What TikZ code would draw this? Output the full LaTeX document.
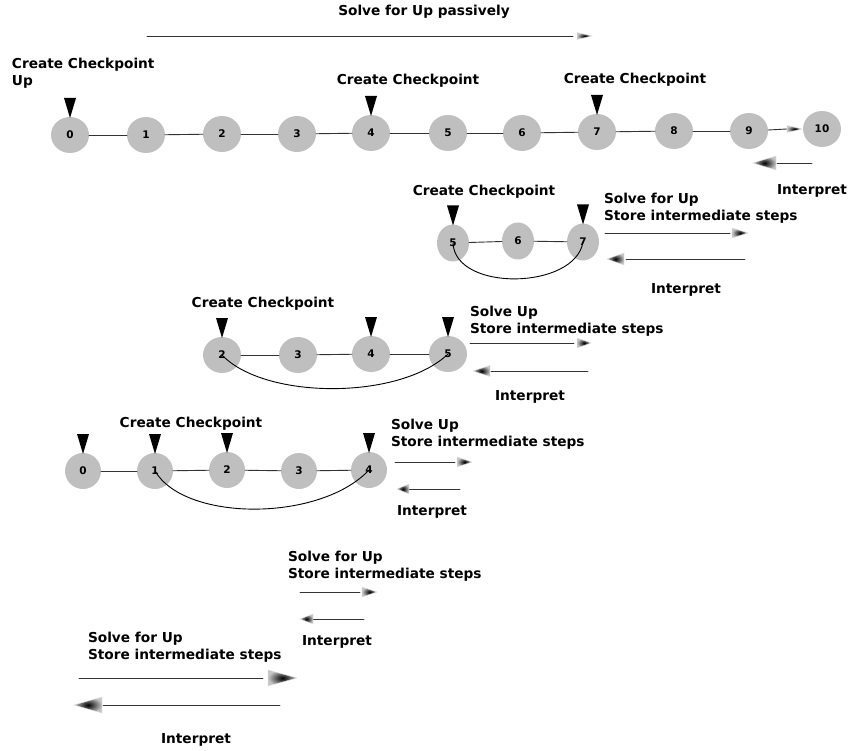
\documentclass[tikz,border=0pt]{standalone}
\usepackage{fontspec}
\setmainfont{DejaVu Sans}
\usetikzlibrary{shapes.geometric}
\definecolor{StateFill}{gray}{0.75}
\definecolor{LinkInk}{gray}{0.2}
\tikzset{
    chk/diagram/.style={
        x=1pt, y=-1pt,
        font=\bfseries\fontsize{13.7}{17}\selectfont,
        line cap=round,
        every node/.style={inner sep=0pt, outer sep=0pt}
    },
    chk/state/.style={
        ellipse, fill=StateFill, draw=none,
        minimum width=38pt, minimum height=36pt,
        font=\bfseries\fontsize{10.5}{12}\selectfont
    },
    chk/narrow/.style={chk/state, minimum width=32pt, minimum height=37pt},
    chk/small/.style={chk/state, minimum width=36pt, minimum height=36pt},
    chk/text/.style={align=left},
    chk/link/.style={draw=LinkInk, line width=0.9pt},
    chk/jump/.style={draw=black, line width=0.9pt},
    chk/flow/.style={draw=LinkInk, line width=0.9pt},
    chk/marker/.pic={\fill[black] (0,1) -- (-6,-19) -- (6,-19) -- cycle;},
    chk/head/.pic={
        \shade[inner color=black, outer color=gray!45,
               draw=gray!25, line width=0.4pt]
            (0,0) -- (-1,-0.5) -- (-1,0.5) -- cycle;
    }
}

\begin{document}
\begin{tikzpicture}[chk/diagram]
    \useasboundingbox (0,0) rectangle (848,751);

    % passive forward sweep
    \node at (424,12) {Solve for Up passively};
    \coordinate (fwdS) at (147,36);
    \coordinate (fwdE) at (573,36);
    \draw[chk/flow] (fwdS) -- (fwdE);
    \pic[xscale=15, yscale=7] at (592,36) {chk/head};

    % full chain
    \foreach \i/\x/\y in {0/70/135, 1/146/135, 2/222/134, 3/297/134,
                          4/371/133, 5/448/133, 6/522/133, 7/597/132,
                          8/674/131, 9/749/131, 10/822/129}
        \node[chk/state] (a\i) at (\x,\y) {\i};
    \foreach \i/\j in {0/1, 1/2, 2/3, 3/4, 4/5, 5/6, 6/7, 7/8, 8/9}
        \draw[chk/link] (a\i) -- (a\j);
    \draw[chk/link] (a9) -- ([xshift=-16pt]a10.west);
    \pic[xscale=15, yscale=7] at ([xshift=-1pt]a10.west) {chk/head};
    \foreach \n in {a0, a4, a7}
        \pic at (\n.north) {chk/marker};
    \node[chk/text, anchor=west] at (12,73.5) {Create Checkpoint\\Up};
    \node at (408,81) {Create Checkpoint};
    \node at (635,80) {Create Checkpoint};
    \coordinate (aBackS) at (812,163);
    \coordinate (aBackE) at (777,163);
    \draw[chk/flow] (aBackS) -- (aBackE);
    \pic[xscale=-23, yscale=14] at (753,163) {chk/head};
    \node at (812,191) {Interpret};

    % segment 5 -- 7
    \foreach \i/\x/\y in {5/453/243, 6/518/241, 7/583/242}
        \node[chk/narrow] (b\i) at (\x,\y) {\i};
    \draw[chk/link] (b5) -- (b6);
    \draw[chk/link] (b6) -- (b7);
    \draw[chk/jump] (b5.center) .. controls (455,292) and (575,290) .. (b7.center);
    \foreach \n in {b5, b7}
        \pic at (\n.north) {chk/marker};
    \node at (484,192) {Create Checkpoint};
    \node[chk/text, anchor=west] at (604,208) {Solve for Up\\Store intermediate steps};
    \coordinate (bFwdS) at (605,233);
    \coordinate (bFwdE) at (730,233);
    \draw[chk/flow] (bFwdS) -- (bFwdE);
    \pic[xscale=16, yscale=10] at (748,233) {chk/head};
    \coordinate (bBackS) at (745,259);
    \coordinate (bBackE) at (626,259);
    \draw[chk/flow] (bBackS) -- (bBackE);
    \pic[xscale=-17, yscale=12] at (607,259) {chk/head};
    \node at (686,290) {Interpret};

    % segment 2 -- 5
    \foreach \i/\x/\y in {2/222/355, 3/298/355, 4/371/354, 5/448/354}
        \node[chk/state] (c\i) at (\x,\y) {\i};
    \foreach \i/\j in {2/3, 3/4, 4/5}
        \draw[chk/link] (c\i) -- (c\j);
    \draw[chk/jump] (c2.center) .. controls (265,400) and (400,400) .. (c5.center);
    \foreach \n in {c2, c4, c5}
        \pic at (\n.north) {chk/marker};
    \node at (263,304) {Create Checkpoint};
    \node[chk/text, anchor=west] at (470,321) {Solve Up\\Store intermediate steps};
    \coordinate (cFwdS) at (470,343);
    \coordinate (cFwdE) at (574,343);
    \draw[chk/flow] (cFwdS) -- (cFwdE);
    \pic[xscale=14, yscale=10] at (591,343) {chk/head};
    \coordinate (cBackS) at (588,371);
    \coordinate (cBackE) at (491,371);
    \draw[chk/flow] (cBackS) -- (cBackE);
    \pic[xscale=-17, yscale=11] at (473,371) {chk/head};
    \node at (530,397) {Interpret};

    % segment 0 -- 4
    \foreach \i/\x/\y in {0/83/471, 1/155/471, 2/227/470, 3/299/471, 4/369/470}
        \node[chk/small] (d\i) at (\x,\y) {\i};
    \foreach \i/\j in {0/1, 1/2, 2/3, 3/4}
        \draw[chk/link] (d\i) -- (d\j);
    \draw[chk/jump] (d1.center) .. controls (185,522) and (320,522) .. (d4.center);
    \foreach \n in {d0, d1, d2, d4}
        \pic at (\n.north) {chk/marker};
    \node at (191,424) {Create Checkpoint};
    \node[chk/text, anchor=west] at (391,434) {Solve Up\\Store intermediate steps};
    \coordinate (dFwdS) at (395,462);
    \coordinate (dFwdE) at (455,462);
    \draw[chk/flow] (dFwdS) -- (dFwdE);
    \pic[xscale=15, yscale=10] at (472,462) {chk/head};
    \coordinate (dBackS) at (460,489);
    \coordinate (dBackE) at (409,489);
    \draw[chk/flow] (dBackS) -- (dBackE);
    \pic[xscale=-12, yscale=10] at (397,489) {chk/head};
    \node at (432,512) {Interpret};

    % short step
    \node[chk/text, anchor=west] at (288,566) {Solve for Up\\Store intermediate steps};
    \coordinate (eFwdS) at (300,592);
    \coordinate (eFwdE) at (360,592);
    \draw[chk/flow] (eFwdS) -- (eFwdE);
    \pic[xscale=15, yscale=10] at (377,592) {chk/head};
    \coordinate (eBackS) at (364,619);
    \coordinate (eBackE) at (313,619);
    \draw[chk/flow] (eBackS) -- (eBackE);
    \pic[xscale=-13, yscale=10] at (300,619) {chk/head};
    \node at (337,642) {Interpret};

    % final step
    \node[chk/text, anchor=west] at (88,647) {Solve for Up\\Store intermediate steps};
    \coordinate (fFwdS) at (79,678);
    \coordinate (fFwdE) at (263,678);
    \draw[chk/flow] (fFwdS) -- (fFwdE);
    \pic[xscale=29, yscale=16] at (297,678) {chk/head};
    \coordinate (fBackS) at (280,705);
    \coordinate (fBackE) at (103,705);
    \draw[chk/flow] (fBackS) -- (fBackE);
    \pic[xscale=-28, yscale=16] at (74,705) {chk/head};
    \node at (196,740) {Interpret};
\end{tikzpicture}
\end{document}
